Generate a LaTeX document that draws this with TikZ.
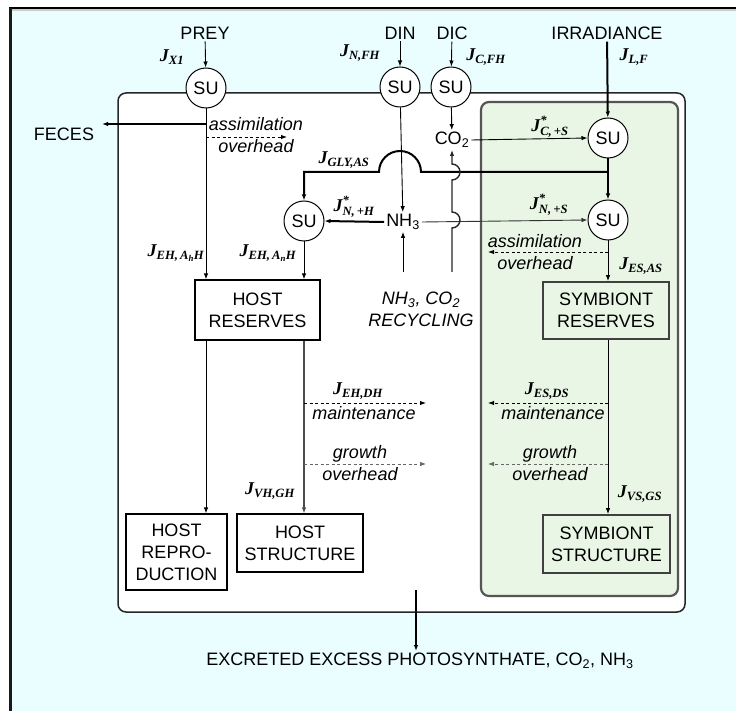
\documentclass[tikz,border=0pt]{standalone}
\usepackage{amsmath}
\usepackage{fontspec}
\setmainfont{Liberation Sans}
\newfontfamily\serifJ{Liberation Serif}
\usepackage{tikz}
\usetikzlibrary{arrows.meta, positioning}
\definecolor{PoolCyan}{RGB}{234,254,255}
\definecolor{SymGreen}{RGB}{233,246,229}
\definecolor{WallGray}{HTML}{555555}
\newcommand{\bigfont}{\fontsize{18}{22}\selectfont}
\newcommand{\jf}{\serifJ\bfseries\itshape}
\newcommand{\J}[1]{$\text{\jf J}_{\text{\jf #1}}$}
\newcommand{\Js}[1]{$\text{\jf J}^{\text{\jf *}}_{\text{\jf #1}}$}
\tikzset{
    % compartments
    hostwall/.style={
        draw=black!85,
        fill=white,
        line width=1.5pt,
        rounded corners=8pt
    },
    symwall/.style={
        draw=WallGray,
        fill=SymGreen,
        line width=2.2pt,
        rounded corners=8pt
    },
    % synthesizing units and pools
    sunit/.style={
        circle,
        draw=black,
        fill=white,
        line width=1pt,
        minimum size=40pt,
        inner sep=0pt,
        font=\bigfont
    },
    poolbox/.style={
        rectangle,
        draw=black,
        fill=white,
        line width=1.2pt,
        align=center,
        inner sep=0pt,
        font=\bigfont
    },
    sympool/.style={
        poolbox,
        draw=black!75,
        fill=SymGreen,
        line width=1.8pt
    },
    % text
    plain/.style={font=\bigfont, inner sep=2pt},
    note/.style={font=\fontsize{18}{22}\selectfont\itshape, align=center, inner sep=1pt},
    fluxlabel/.style={font=\bigfont, inner sep=0pt},
    % arrows
    flux/.style={
        -{Latex[length=6pt,width=4.5pt]},
        line width=0.9pt
    },
    bigflux/.style={
        flux,
        line width=2pt
    },
    lossflux/.style={
        flux,
        dash pattern=on 3pt off 2.5pt,
        line width=0.9pt
    },
    growloss/.style={
        lossflux,
        draw=black!60,
        line width=0.7pt
    }
}
\begin{document}
\begin{tikzpicture}[x=1pt, y=-1pt]
    \useasboundingbox (0,0) rectangle (736,711);
    % background and frame
    \fill[PoolCyan] (10,8) rectangle (736,711);
    \draw[black!20, line width=1.5pt] (12,10) -- (736,10);
    \draw[line width=1.2pt] (9,8) -- (736,8);
    \draw[black!90, line width=3pt] (10.5,8) -- (10.5,711);

    % host and symbiont compartments
    \draw[hostwall] (118,93) rectangle (685,612);
    \draw[symwall] (481,102) rectangle (678,596);

    % inputs
    \node[plain] (prey) at (205,33) {PREY};
    \node[plain] (din) at (400,33) {DIN};
    \node[plain] (dic) at (452,33) {DIC};
    \node[plain] (irr) at (607,33) {IRRADIANCE};

    % synthesizing units
    \node[sunit] (preysu) at (206,88) {SU};
    \node[sunit] (dinsu) at (400,87) {SU};
    \node[sunit] (dicsu) at (451,87) {SU};
    \node[sunit] (irrsu) at (608,138) {SU};
    \node[sunit] (symnsu) at (608,220) {SU};
    \node[sunit] (hostnsu) at (304,221) {SU};

    % inorganic pools
    \node[plain] (co2) at (452,140) {CO\textsubscript{2}};
    \node[plain] (nh3) at (403,222) {NH\textsubscript{3}};
    \node[note] (recyc) at (421,309) {NH\textsubscript{3}, CO\textsubscript{2}\\RECYCLING};
    \coordinate (recyctop) at (421,272);

    % reserves and structures
    \node[poolbox, minimum width=125pt, minimum height=60pt] (hostres) at (257.5,310) {HOST\\RESERVES};
    \node[sympool, minimum width=126pt, minimum height=57pt] (symres) at (606,310.5) {SYMBIONT\\RESERVES};
    \node[poolbox, minimum width=101pt, minimum height=76pt] (hostrep) at (176.5,552) {HOST\\REPRO-\\DUCTION};
    \node[poolbox, minimum width=126pt, minimum height=58pt] (hoststr) at (300,543) {HOST\\STRUCTURE};
    \node[sympool, minimum width=127pt, minimum height=58pt] (symstr) at (606.5,544) {SYMBIONT\\STRUCTURE};

    % outputs
    \node[plain] (feces) at (64,134) {FECES};
    \coordinate (fecestip) at (102,124);
    \node[plain] (excr) at (420,661) {EXCRETED EXCESS PHOTOSYNTHATE, CO\textsubscript{2}, NH\textsubscript{3}};
    \coordinate (excrstart) at (416,590);

    % loss ends
    \coordinate (hostovh) at (287,137);
    \coordinate (symovh) at (488,252);
    \coordinate (hostmaint) at (426,403);
    \coordinate (hostgrow) at (426,464);
    \coordinate (symmaint) at (488,403);
    \coordinate (symgrow) at (488,464);
    \coordinate (glyjoin) at (608,172);

    % uptake
    \draw[flux] (prey) -- (preysu);
    \draw[flux] (din) -- (dinsu);
    \draw[flux] (dic) -- (dicsu);
    \draw[bigflux] (irr) -- (irrsu);
    \draw[flux] (dicsu) -- (co2);
    \draw[flux] (co2.east) -- (irrsu.west);
    \draw[bigflux] (irrsu) -- (symnsu);

    % host assimilation
    \draw[line width=1.6pt, -{Latex[length=6pt,width=4.5pt]}] (preysu.south |- fecestip) -- (fecestip);
    \draw[flux] (preysu.south) -- (preysu.south |- hostres.north);
    \draw[lossflux] (preysu.south |- hostovh) -- (hostovh);
    \node[note] (hostovhtxt) at (256,135.5) {assimilation\\overhead};
    \draw[flux] (dinsu) -- (nh3);
    \draw[bigflux] (nh3.west) -- (hostnsu.east);
    \draw[flux] (hostnsu) -- (hostnsu |- hostres.north);

    % glycerol to host
    \draw[bigflux] (glyjoin) -- (421,172)
        .. controls (421,160.4) and (411.6,151) .. (400,151)
        .. controls (388.4,151) and (379,160.4) .. (379,172)
        -- (hostnsu |- glyjoin) -- (hostnsu.north);

    % ammonium to symbiont and recycling
    \draw[flux, black!80] (nh3.east) -- (symnsu.west);
    \draw[flux] (nh3.south |- recyctop) -- (nh3.south);
    \draw[line width=1.4pt, black!85, -{Latex[length=6pt,width=4.5pt]}] (co2.south |- recyctop) -- (452,228)
        .. controls (456.4,228) and (460,224.4) .. (460,220)
        .. controls (460,215.6) and (456.4,212) .. (452,212)
        -- (452,180)
        .. controls (456.4,180) and (460,176.4) .. (460,172)
        .. controls (460,167.6) and (456.4,164) .. (452,164)
        -- (co2.south);

    % symbiont assimilation
    \draw[flux] (symnsu) -- (symnsu |- symres.north);
    \draw[lossflux] (symnsu |- symovh) -- (symovh);
    \node[note] (symovhtxt) at (535,252.5) {assimilation\\overhead};

    % maintenance and growth
    \draw[line width=1.8pt, black!70, -{Latex[length=6pt,width=4.5pt]}] (hostnsu |- hostres.south) -- (hostnsu |- hoststr.north);
    \draw[flux] (preysu |- hostres.south) -- (preysu |- hostrep.north);
    \draw[flux] (symnsu |- symres.south) -- (symnsu |- symstr.north);
    \draw[lossflux] (hostnsu |- hostmaint) -- (hostmaint);
    \draw[growloss] (hostnsu |- hostgrow) -- (hostgrow);
    \draw[lossflux] (symnsu |- symmaint) -- (symmaint);
    \draw[growloss] (symnsu |- symgrow) -- (symgrow);
    \node[note] (hostmainttxt) at (364,413) {maintenance};
    \node[note] (hostgrowtxt) at (360,463.5) {growth\\overhead};
    \node[note] (symmainttxt) at (553,413) {maintenance};
    \node[note] (symgrowtxt) at (550,463.5) {growth\\overhead};

    % excretion
    \draw[line width=1.5pt, -{Latex[length=6pt,width=4.5pt]}] (excrstart) -- (excrstart |- excr.north);

    % flux labels
    \node[fluxlabel] (jx) at (172,57) {\J{X1}};
    \node[fluxlabel] (jnfh) at (360,53) {\J{N,FH}};
    \node[fluxlabel] (jcfh) at (486,57) {\J{C,FH}};
    \node[fluxlabel] (jlf) at (634,57) {\J{L,F}};
    \node[fluxlabel] (jcs) at (550,127) {\Js{C,\,+S}};
    \node[fluxlabel] (jgly) at (344,160) {\J{GLY,AS}};
    \node[fluxlabel] (jnh) at (354,207) {\Js{N,\,+H}};
    \node[fluxlabel] (jns) at (549,205) {\Js{N,\,+S}};
    \node[fluxlabel] (jesas) at (641,266) {\J{ES,AS}};
    \node[fluxlabel] (jehah) at (176,253) {\J{EH,\,A\textsubscript{h}H}};
    \node[fluxlabel] (jehan) at (268,253) {\J{EH,\,A\textsubscript{n}H}};
    \node[fluxlabel] (jehdh) at (358,391) {\J{EH,DH}};
    \node[fluxlabel] (jesds) at (547,391) {\J{ES,DS}};
    \node[fluxlabel] (jvhgh) at (270,491) {\J{VH,GH}};
    \node[fluxlabel] (jvsgs) at (640,494) {\J{VS,GS}};
\end{tikzpicture}
\end{document}
